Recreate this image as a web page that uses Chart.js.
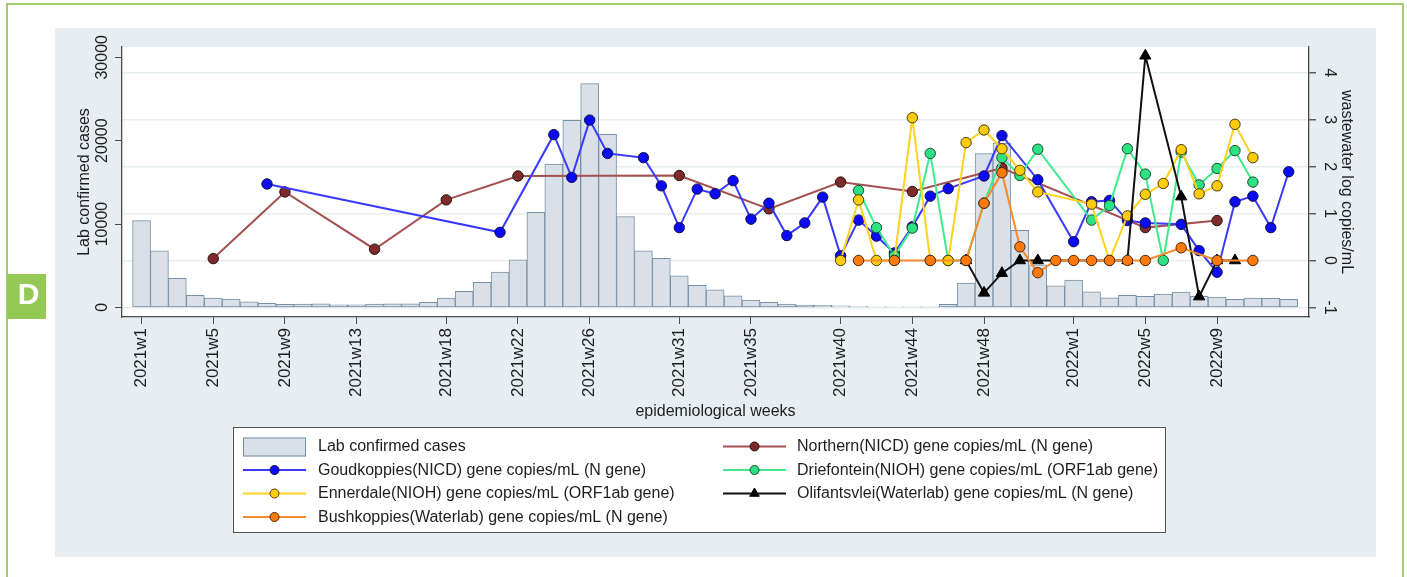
<!DOCTYPE html>
<html>
<head>
<meta charset="utf-8">
<script src="https://cdn.jsdelivr.net/npm/chart.js@4.4.1/dist/chart.umd.min.js"></script>
<style>
  html, body { margin: 0; padding: 0; background: #ffffff; }
  canvas { display: block; }
</style>
</head>
<body>
<canvas id="chart" width="1407" height="577"></canvas>
<script>
// Epidemiological weeks (x categories)
const weeks = [
  '2021w1','2021w2','2021w3','2021w4','2021w5','2021w6','2021w7','2021w8','2021w9','2021w10',
  '2021w11','2021w12','2021w13','2021w14','2021w15','2021w16','2021w17','2021w18','2021w19','2021w20',
  '2021w21','2021w22','2021w23','2021w24','2021w25','2021w26','2021w27','2021w28','2021w29','2021w30',
  '2021w31','2021w32','2021w33','2021w34','2021w35','2021w36','2021w37','2021w38','2021w39','2021w40',
  '2021w41','2021w42','2021w43','2021w44','2021w45','2021w46','2021w47','2021w48','2021w49','2021w50',
  '2021w51','2021w52','2022w1','2022w2','2022w3','2022w4','2022w5','2022w6','2022w7','2022w8',
  '2022w9','2022w10','2022w11','2022w12','2022w13'
];
const weekTicks = ['2021w1','2021w5','2021w9','2021w13','2021w18','2021w22','2021w26','2021w31',
  '2021w35','2021w40','2021w44','2021w48','2022w1','2022w5','2022w9'];
const caseTicks = [0, 10000, 20000, 30000];
const logTicks = [-1, 0, 1, 2, 3, 4];

// Lab confirmed cases per week
const labCases = [
  10400, 6800, 3500, 1450, 1120, 1000, 680, 480, 360, 400,
  440, 320, 320, 400, 440, 440, 600, 1120, 1920, 3000,
  4240, 5720, 11400, 17200, 22440, 26840, 20760, 10880, 6800, 5880,
  3800, 2640, 2120, 1400, 880, 600, 400, 280, 240, 200,
  120, 50, 50, 50, 20, 360, 2920, 18440, 19720, 9240,
  5120, 2600, 3280, 1880, 1160, 1440, 1320, 1600, 1840, 1320,
  1240, 960, 1120, 1080, 960
];

// Wastewater log copies/mL, per site (sampled weeks + values)
const northernWeeks = ['2021w5','2021w9','2021w14','2021w18','2021w22','2021w31','2021w36','2021w40',
  '2021w44','2021w49','2022w5','2022w9'];
const northernVals = [0.04, 1.46, 0.24, 1.29, 1.80, 1.81, 1.10, 1.67, 1.47, 1.97, 0.70, 0.85];

const goudWeeks = ['2021w8','2021w21','2021w24','2021w25','2021w26','2021w27','2021w29','2021w30',
  '2021w31','2021w32','2021w33','2021w34','2021w35','2021w36','2021w37','2021w38','2021w39','2021w40',
  '2021w41','2021w42','2021w43','2021w44','2021w45','2021w46','2021w48','2021w49','2021w51',
  '2022w1','2022w2','2022w3','2022w4','2022w5','2022w7','2022w8','2022w9','2022w10','2022w11',
  '2022w12','2022w13'];
const goudVals = [1.63, 0.60, 2.68, 1.77, 2.99, 2.28, 2.19, 1.59,
  0.70, 1.52, 1.42, 1.70, 0.88, 1.22, 0.53, 0.80, 1.35, 0.10,
  0.86, 0.52, 0.16, 0.72, 1.37, 1.53, 1.80, 2.66, 1.72,
  0.40, 1.25, 1.28, 0.85, 0.80, 0.77, 0.21, -0.25, 1.25, 1.37,
  0.70, 1.89];

const driefWeeks = ['2021w41','2021w42','2021w43','2021w44','2021w45','2021w46','2021w47','2021w48',
  '2021w49','2021w50','2021w51','2022w2','2022w3','2022w4','2022w5','2022w6','2022w7','2022w8',
  '2022w9','2022w10','2022w11'];
const driefVals = [1.49, 0.70, 0.10, 0.69, 2.28, 0, 0, 1.22,
  2.19, 1.81, 2.37, 0.86, 1.17, 2.38, 1.84, 0, 2.31, 1.61,
  1.96, 2.34, 1.67];

const ennerWeeks = ['2021w40','2021w41','2021w42','2021w43','2021w44','2021w45','2021w46','2021w47',
  '2021w48','2021w49','2021w50','2021w51','2022w2','2022w3','2022w4','2022w5','2022w6','2022w7',
  '2022w8','2022w9','2022w10','2022w11'];
const ennerVals = [0, 1.29, 0, 0, 3.04, 0, 0, 2.51,
  2.78, 2.38, 1.92, 1.46, 1.20, 0, 0.95, 1.41, 1.64, 2.36,
  1.42, 1.59, 2.90, 2.19];

const olifWeeks = ['2021w47','2021w48','2021w49','2021w50','2021w51','2022w4','2022w5','2022w7',
  '2022w8','2022w9','2022w10'];
const olifVals = [0, -0.69, -0.27, 0, 0, 0, 4.36, 1.36, -0.77, 0, 0];

const bushWeeks = ['2021w41','2021w43','2021w45','2021w47','2021w48','2021w49','2021w50','2021w51',
  '2021w52','2022w1','2022w2','2022w3','2022w4','2022w5','2022w7','2022w9','2022w11'];
const bushVals = [0, 0, 0, 0, 1.22, 1.87, 0.29, -0.26, 0, 0, 0, 0, 0, 0, 0.27, 0, 0];

const seriesNames = [
  'Lab confirmed cases',
  'Northern(NICD) gene copies/mL (N gene)',
  'Goudkoppies(NICD) gene copies/mL (N gene)',
  'Driefontein(NIOH) gene copies/mL (ORF1ab gene)',
  'Ennerdale(NIOH) gene copies/mL (ORF1ab gene)',
  'Olifantsvlei(Waterlab) gene copies/mL (N gene)',
  'Bushkoppies(Waterlab) gene copies/mL (N gene)'
];

const FONT = '"Liberation Sans", Arial, Helvetica, sans-serif';
const TEXT = '#1e1e1e';
const AXIS = '#4a4a4a';

function points(wk, vals) {
  return wk.map((w, k) => ({ x: weeks.indexOf(w), y: vals[k] }));
}

function lineSet(label, wk, vals, line, fill, edge, order, style) {
  return {
    type: 'line', label, data: points(wk, vals), yAxisID: 'yR', order,
    borderColor: line, borderWidth: 2, backgroundColor: fill,
    pointBackgroundColor: fill, pointBorderColor: edge, pointBorderWidth: 1,
    pointStyle: style || 'circle', pointRadius: style === 'triangle' ? 6.5 : 5.2,
    tension: 0, fill: false, spanGaps: true
  };
}

const datasets = [
  {
    type: 'bar', label: seriesNames[0], yAxisID: 'yL', order: 10,
    data: labCases.map((v, i) => ({ x: i, y: v })),
    backgroundColor: '#d9e0e8', borderColor: '#7890a6', borderWidth: 1,
    borderSkipped: false, barPercentage: 1, categoryPercentage: 1, grouped: false
  },
  lineSet(seriesNames[1], northernWeeks, northernVals, '#a45050', '#7e2b2b', '#2a1010', 6),
  lineSet(seriesNames[2], goudWeeks, goudVals, '#3a3aff', '#0a0af5', '#10104a', 5),
  lineSet(seriesNames[3], driefWeeks, driefVals, '#3cec8c', '#2ee283', '#1d4a30', 4),
  lineSet(seriesNames[4], ennerWeeks, ennerVals, '#ffd21c', '#ffcc0a', '#4a3c10', 3),
  lineSet(seriesNames[5], olifWeeks, olifVals, '#111111', '#000000', '#000000', 2, 'triangle'),
  lineSet(seriesNames[6], bushWeeks, bushVals, '#f78a2c', '#ff7a0a', '#4a2a10', 1)
];

function rotText(ctx, txt, x, y, ang) {
  ctx.save();
  ctx.translate(x, y);
  ctx.rotate(ang);
  ctx.textAlign = 'center';
  ctx.textBaseline = 'middle';
  ctx.fillText(txt, 0, 0);
  ctx.restore();
}

function drawMarker(ctx, ds, x, y, r) {
  ctx.save();
  ctx.fillStyle = ds.pointBackgroundColor;
  ctx.strokeStyle = ds.pointBorderColor;
  ctx.lineWidth = 1;
  ctx.beginPath();
  if (ds.pointStyle === 'triangle') {
    ctx.moveTo(x, y - r);
    ctx.lineTo(x + r * 0.866, y + r / 2);
    ctx.lineTo(x - r * 0.866, y + r / 2);
    ctx.closePath();
  } else {
    ctx.arc(x, y, r, 0, Math.PI * 2);
  }
  ctx.fill();
  ctx.stroke();
  ctx.restore();
}

const decor = {
  id: 'decor',
  beforeDraw(chart) {
    const ctx = chart.ctx, a = chart.chartArea;
    ctx.save();
    ctx.fillStyle = '#ffffff';
    ctx.fillRect(0, 0, chart.width, chart.height);
    // outer frame
    ctx.strokeStyle = '#a3d06c';
    ctx.lineWidth = 2;
    ctx.beginPath();
    ctx.moveTo(7, 577); ctx.lineTo(7, 4); ctx.lineTo(1403, 4); ctx.lineTo(1403, 577);
    ctx.stroke();
    // graph region
    ctx.fillStyle = '#e7eef1';
    ctx.fillRect(55, 28, 1321, 529);
    // panel letter
    ctx.fillStyle = '#93c954';
    ctx.fillRect(7, 274, 39, 45);
    ctx.fillStyle = '#ffffff';
    ctx.font = 'bold 30px ' + FONT;
    ctx.textAlign = 'center';
    ctx.textBaseline = 'alphabetic';
    ctx.fillText('D', 28.5, 303.5);
    // plot region
    ctx.fillStyle = '#ffffff';
    ctx.fillRect(a.left, a.top, a.right - a.left, a.bottom - a.top);
    ctx.restore();
  },
  afterDraw(chart) {
    const ctx = chart.ctx, a = chart.chartArea;
    const yL = chart.scales.yL, yR = chart.scales.yR;
    ctx.save();
    ctx.fillStyle = TEXT;
    ctx.font = '16px ' + FONT;
    caseTicks.forEach(v => rotText(ctx, String(v), 103, yL.getPixelForValue(v), -Math.PI / 2));
    logTicks.forEach(v => rotText(ctx, String(v), 1329, yR.getPixelForValue(v), Math.PI / 2));
    rotText(ctx, 'Lab confirmed cases', 85, (a.top + a.bottom) / 2, -Math.PI / 2);
    rotText(ctx, 'wastewater log copies/mL', 1346, (a.top + a.bottom) / 2, Math.PI / 2);
    ctx.textAlign = 'center';
    ctx.textBaseline = 'middle';
    ctx.fillText('epidemiological weeks', (a.left + a.right) / 2, 412);

    // legend
    ctx.fillStyle = '#ffffff';
    ctx.fillRect(233.5, 427.5, 932, 105);
    ctx.strokeStyle = '#555555';
    ctx.lineWidth = 1;
    ctx.strokeRect(233.5, 427.5, 932, 105);
    const symX = [243, 723], textX = [318, 797], rowY = [446.5, 470, 493.5, 517];
    chart.data.datasets.forEach((ds, k) => {
      const col = k % 2, row = Math.floor(k / 2);
      const x0 = symX[col], y = rowY[row];
      if (ds.type === 'bar') {
        ctx.fillStyle = ds.backgroundColor;
        ctx.fillRect(x0, y - 9, 63, 19);
        ctx.strokeStyle = ds.borderColor;
        ctx.strokeRect(x0 + 0.5, y - 8.5, 62, 18);
      } else {
        ctx.strokeStyle = ds.borderColor;
        ctx.lineWidth = 2;
        ctx.beginPath();
        ctx.moveTo(x0, y); ctx.lineTo(x0 + 63, y);
        ctx.stroke();
        drawMarker(ctx, ds, x0 + 31.5, y, ds.pointStyle === 'triangle' ? 5.5 : 4.5);
      }
      ctx.fillStyle = TEXT;
      ctx.font = '16px ' + FONT;
      ctx.textAlign = 'left';
      ctx.textBaseline = 'middle';
      ctx.fillText(ds.label, textX[col], y + 0.5);
    });
    ctx.restore();
  }
};

new Chart(document.getElementById('chart'), {
  type: 'bar',
  data: { datasets },
  plugins: [decor],
  options: {
    responsive: false,
    animation: false,
    events: [],
    devicePixelRatio: 1,
    layout: { padding: { top: 47, left: 0, right: 0, bottom: 0 }, autoPadding: false },
    plugins: { legend: { display: false }, tooltip: { enabled: false }, title: { display: false } },
    scales: {
      x: {
        type: 'linear', position: 'bottom', offset: false,
        min: -1.09, max: 65.13,
        afterBuildTicks: s => { s.ticks = weekTicks.map(w => ({ value: weeks.indexOf(w) })); },
        afterFit: s => { s.height = 260; },
        ticks: {
          autoSkip: false, minRotation: 90, maxRotation: 90, padding: 4,
          color: TEXT, font: { family: FONT, size: 17 },
          callback: v => weeks[v] || ''
        },
        grid: { display: true, drawOnChartArea: false, drawTicks: true, tickLength: 7, tickColor: AXIS, offset: false },
        border: { display: true, color: AXIS, width: 1.3 }
      },
      yL: {
        type: 'linear', position: 'left',
        min: -1150, max: 31233,
        afterBuildTicks: s => { s.ticks = caseTicks.map(v => ({ value: v })); },
        afterFit: s => { s.width = 122; },
        ticks: { display: false },
        grid: { display: true, drawOnChartArea: false, drawTicks: true, tickLength: 7, tickColor: AXIS },
        border: { display: true, color: AXIS, width: 1.3 }
      },
      yR: {
        type: 'linear', position: 'right',
        min: -1.204, max: 4.547,
        afterBuildTicks: s => { s.ticks = logTicks.map(v => ({ value: v })); },
        afterFit: s => { s.width = 98; },
        ticks: { display: false },
        grid: { display: true, drawOnChartArea: true, drawTicks: true, tickLength: 7,
                color: '#e6eef0', lineWidth: 1.5, tickColor: AXIS, tickWidth: 1.3 },
        border: { display: true, color: AXIS, width: 1.3 }
      }
    }
  }
});
</script>
</body>
</html>
